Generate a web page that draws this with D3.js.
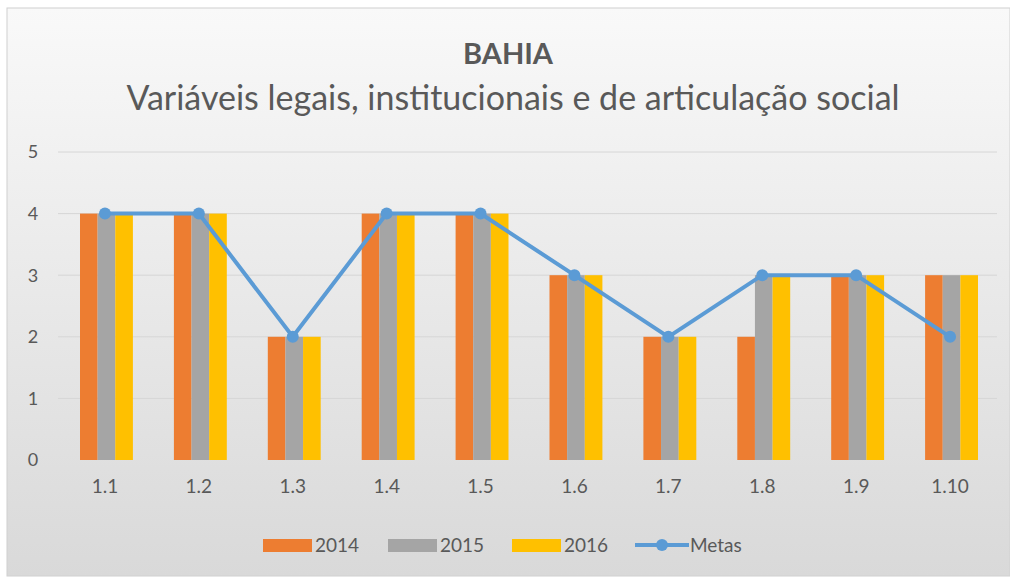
<!DOCTYPE html>
<meta charset="utf-8">
<style>
body { margin: 0; background: #fff; }
text { font-family: Lato, "Open Sans", sans-serif; fill: #595959; }
</style>
<body>
<svg width="1010" height="578"></svg>
<script src="https://d3js.org/d3.v7.min.js"></script>
<script>
var categories = ["1.1", "1.2", "1.3", "1.4", "1.5", "1.6", "1.7", "1.8", "1.9", "1.10"];
var v2014 = [4, 4, 2, 4, 4, 3, 2, 2, 3, 3];
var v2015 = [4, 4, 2, 4, 4, 3, 2, 3, 3, 3];
var v2016 = [4, 4, 2, 4, 4, 3, 2, 3, 3, 3];
var metas = [4, 4, 2, 4, 4, 3, 2, 3, 3, 2];
var yTicks = [0, 1, 2, 3, 4, 5];
var seriesNames = ["2014", "2015", "2016"];
var colors = ["#ed7d31", "#a5a5a5", "#ffc000"];

var svg = d3.select("svg");

// background gradient like the spreadsheet chart area
var defs = svg.append("defs");
var grad = defs.append("linearGradient").attr("id", "bg")
    .attr("x1", 0).attr("y1", 0).attr("x2", 0).attr("y2", 1);
grad.append("stop").attr("offset", "0%").attr("stop-color", "#f9f9f9");
grad.append("stop").attr("offset", "100%").attr("stop-color", "#d9d9d9");

svg.append("rect")
    .attr("x", 7).attr("y", 8).attr("width", 1003).attr("height", 568)
    .attr("fill", "url(#bg)")
    .attr("stroke", "#d0d0d0");

var margin = {top: 152, left: 58};

var x = d3.scaleBand().domain(categories).range([0, 939]).paddingInner(0).paddingOuter(0);
var x1 = d3.scaleBand().domain(seriesNames).range([22, x.bandwidth() - 19]).padding(0);
var y = d3.scaleLinear().domain([0, 5]).range([308, 0]);

var g = svg.append("g").attr("transform", "translate(" + margin.left + "," + margin.top + ")");

// grid
g.selectAll(".grid").data(yTicks.slice(1)).enter().append("line")
    .attr("x1", 0).attr("x2", 939)
    .attr("y1", function(d) { return y(d); })
    .attr("y2", function(d) { return y(d); })
    .attr("stroke", "#d6d6d6").attr("stroke-width", 1);

// y labels
g.selectAll(".ylab").data(yTicks).enter().append("text")
    .attr("x", -25).attr("y", function(d) { return y(d); })
    .attr("dy", "0.35em").attr("text-anchor", "middle")
    .style("font-size", "18px")
    .text(function(d) { return d; });

// x labels
g.selectAll(".xlab").data(categories).enter().append("text")
    .attr("x", function(d) { return x(d) + x.bandwidth() / 2; })
    .attr("y", 341).attr("text-anchor", "middle")
    .style("font-size", "19px")
    .text(function(d) { return d; });

// bars
var seriesData = [v2014, v2015, v2016];
seriesData.forEach(function(vals, si) {
  g.selectAll(".bar" + si).data(vals).enter().append("rect")
      .attr("x", function(d, i) { return x(categories[i]) + x1(seriesNames[si]); })
      .attr("y", function(d) { return y(d); })
      .attr("width", x1.bandwidth())
      .attr("height", function(d) { return y(0) - y(d); })
      .attr("fill", colors[si]);
});

// metas line
var line = d3.line()
    .x(function(d, i) { return x(categories[i]) + x.bandwidth() / 2; })
    .y(function(d) { return y(d); });
g.append("path").datum(metas)
    .attr("d", line).attr("fill", "none")
    .attr("stroke", "#5b9bd5").attr("stroke-width", 4);
g.selectAll(".dot").data(metas).enter().append("circle")
    .attr("cx", function(d, i) { return x(categories[i]) + x.bandwidth() / 2; })
    .attr("cy", function(d) { return y(d); })
    .attr("r", 6).attr("fill", "#5b9bd5");

// titles
svg.append("text").attr("x", 508).attr("y", 64).attr("text-anchor", "middle")
    .style("font-size", "29px").style("font-weight", "bold")
    .text("BAHIA");
svg.append("text").attr("x", 513).attr("y", 110).attr("text-anchor", "middle")
    .style("font-size", "34px")
    .text("Variáveis legais, institucionais e de articulação social");

// legend
var lg = svg.append("g").attr("transform", "translate(0,545)");
var legendX = [263, 388, 512];
seriesNames.forEach(function(n, i) {
  lg.append("rect").attr("x", legendX[i]).attr("y", -6).attr("width", 49).attr("height", 13)
      .attr("fill", colors[i]);
  lg.append("text").attr("x", legendX[i] + 52).attr("y", 0).attr("dy", "0.35em")
      .style("font-size", "19px").text(n);
});
lg.append("line").attr("x1", 635).attr("x2", 689).attr("y1", 0).attr("y2", 0)
    .attr("stroke", "#5b9bd5").attr("stroke-width", 4);
lg.append("circle").attr("cx", 662).attr("cy", 0).attr("r", 6).attr("fill", "#5b9bd5");
lg.append("text").attr("x", 690).attr("y", 0).attr("dy", "0.35em")
    .style("font-size", "19px").text("Metas");
</script>
</body>
